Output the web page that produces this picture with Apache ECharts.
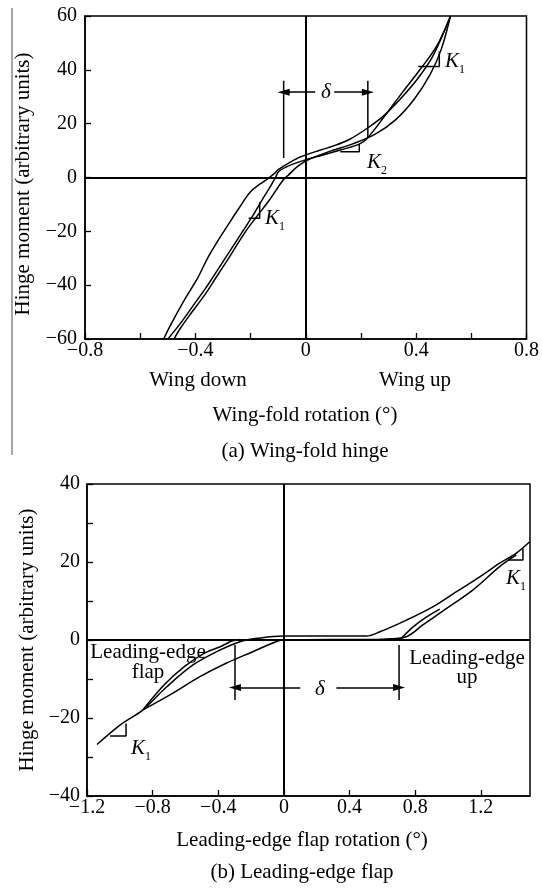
<!DOCTYPE html>
<html>
<head>
<meta charset="utf-8">
<script src="https://cdn.jsdelivr.net/npm/echarts@6/dist/echarts.min.js"></script>
<style>html,body{margin:0;padding:0;background:#fff;}#chart{width:542px;height:896px;}</style>
</head>
<body>
<div id="chart"></div>
<script>
// ---------- (a) Wing-fold hinge: [rotation (deg), hinge moment] ----------
const wingUpperBranch = [[-0.515,-60],[-0.491,-55.0],[-0.437,-45.0],[-0.393,-37.6],[-0.357,-30.2],[-0.321,-23.9],[-0.284,-18.0],[-0.244,-11.7],[-0.201,-5.4],[-0.165,-2.4],[-0.143,-0.9],[-0.111,1.7],[-0.101,2.8],[-0.056,5.7],[-0.020,7.6],[0.053,10.2],[0.100,11.7],[0.161,14.3],[0.223,18.3],[0.281,22.8],[0.342,29.1],[0.404,36.5],[0.462,45.4],[0.524,59.8]];
const wingLowerBranch = [[0.524,59.8],[0.491,47.6],[0.451,38.3],[0.393,29.1],[0.324,21.3],[0.252,16.1],[0.168,12.4],[0.089,9.8],[0.016,6.9],[-0.027,4.3],[-0.063,0.9],[-0.082,-0.9],[-0.129,-8.0],[-0.176,-14.3],[-0.219,-20.2],[-0.274,-29.1],[-0.321,-36.5],[-0.368,-43.9],[-0.411,-49.8],[-0.455,-56.1],[-0.476,-59.8]];
const wingInnerBranch = [[-0.498,-59.8],[-0.455,-54.3],[-0.408,-47.6],[-0.364,-41.3],[-0.321,-34.6],[-0.274,-27.2],[-0.230,-20.2],[-0.190,-13.9],[-0.158,-8.3],[-0.129,-3.5],[-0.111,-0.2],[-0.096,2.4],[-0.056,4.6],[-0.002,6.5],[0.060,8.3],[0.125,10.2],[0.194,12.4],[0.223,14.6],[0.288,23.1],[0.353,32.0],[0.415,40.2],[0.476,49.1],[0.524,59.8]];
const wingK1Upper = [[0.408,41.2],[0.484,41.2],[0.484,46.8]];
const wingK2 = [[0.125,9.6],[0.194,9.6],[0.194,12.4]];
const wingK1Lower = [[-0.207,-15.1],[-0.167,-15.1],[-0.167,-9.2]];
const wingDeltaLeft = [[-0.08,35.9],[-0.08,7.2]];
const wingDeltaRight = [[0.225,35.9],[0.225,15.0]];
const wingDeltaArrows = [[[0.034,31.7],[-0.08,31.7]],[[0.103,31.7],[0.225,31.7]]];
const wingXTicks = {min:-0.8, max:0.8, step:0.4};
const wingYTicks = {min:-60, max:60, step:20};

// ---------- (b) Leading-edge flap ----------
const flapMainBranch = [[-1.139,-26.8],[-0.995,-21.7],[-0.859,-17.9],[-0.714,-12.0],[-0.554,-6.4],[-0.410,-3.0],[-0.268,-0.44],[-0.146,0.51],[-0.006,1.03],[0.280,1.03],[0.504,1.03],[0.585,2.1],[0.747,5.1],[0.907,8.5],[1.052,12.4],[1.194,16.2],[1.315,19.7],[1.417,22.3],[1.498,25.2]];
const flapLowerBranch = [[-0.859,-17.9],[-0.676,-13.6],[-0.512,-9.4],[-0.349,-5.9],[-0.189,-3.0],[-0.067,-0.77],[-0.006,0],[0.280,0.13],[0.504,0.13],[0.625,0.26],[0.747,0.85],[0.847,3.85],[0.950,6.9],[1.151,12.8],[1.315,18.8],[1.417,21.8]];
const flapLeftBranch = [[-0.859,-17.9],[-0.725,-11.3],[-0.603,-6.7],[-0.481,-3.3],[-0.378,-1.54],[-0.317,-0.26],[-0.268,0.13]];
const flapRightBranch = [[0.706,0],[0.786,3.3],[0.859,5.6],[0.950,7.9]];
const flapK1Lower = [[-1.060,-24.6],[-0.962,-24.6],[-0.962,-21.4]];
const flapK1Upper = [[1.366,20.5],[1.457,20.5],[1.457,23.5]];
const flapDeltaLeft = [[-0.298,-1.3],[-0.298,-15.4]];
const flapDeltaRight = [[0.702,-1.3],[0.702,-15.4]];
const flapDeltaArrows = [[[0.10,-12.2],[-0.298,-12.2]],[[0.32,-12.2],[0.702,-12.2]]];
const flapXTicks = {min:-1.2, max:1.5, step:0.4};
const flapYTicks = {min:-40, max:40, step:20};

// ---------- build ----------
const SERIF = 'Liberation Serif, Times New Roman, serif';
const fmt = v => String(+(+v).toFixed(1)).replace('-', '\u2212');

function xAx(grid, t, minor, showMax) {
  return {
    type:'value', gridIndex:grid, min:t.min, max:t.max, interval:t.step,
    axisLine:{show:true, onZero:false, lineStyle:{color:'#000', width:1.5}},
    axisTick:{show:true, inside:true, length:6, lineStyle:{color:'#000', width:1.3}},
    minorTick:{show:minor, splitNumber:2, length:6, lineStyle:{color:'#000', width:1.3}},
    splitLine:{show:false}, minorSplitLine:{show:false},
    axisLabel:{color:'#000', fontSize:20, fontFamily:SERIF, margin:2, formatter:fmt, showMaxLabel:showMax}
  };
}
function yAx(grid, t, minor, margin) {
  return {
    type:'value', gridIndex:grid, min:t.min, max:t.max, interval:t.step,
    axisLine:{show:true, onZero:false, lineStyle:{color:'#000', width:1.5}},
    axisTick:{show:true, inside:true, length:6, lineStyle:{color:'#000', width:1.3}},
    minorTick:{show:minor, splitNumber:2, length:6, lineStyle:{color:'#000', width:1.3}},
    splitLine:{show:false}, minorSplitLine:{show:false},
    axisLabel:{color:'#000', fontSize:20, fontFamily:SERIF, margin:margin, formatter:fmt}
  };
}
function curve(data, gi) {
  return {type:'line', xAxisIndex:gi, yAxisIndex:gi, data:data, showSymbol:false, symbol:'none',
    smooth:0.35, lineStyle:{color:'#000', width:1.5}, silent:true, z:3};
}
function poly(data, gi) {
  return {type:'line', xAxisIndex:gi, yAxisIndex:gi, data:data, showSymbol:false, symbol:'none',
    lineStyle:{color:'#000', width:1.5}, silent:true, z:3};
}
function arrows(pairs, gi) {
  return {type:'line', xAxisIndex:gi, yAxisIndex:gi, data:[], silent:true,
    markLine:{silent:true, symbol:['none','triangle'], symbolSize:[7,12], animation:false,
      lineStyle:{color:'#000', width:1.5, type:'solid'}, label:{show:false},
      data:pairs.map(p => [{coord:p[0]},{coord:p[1]}])}};
}
function zeroLines(gi) {
  return {type:'line', xAxisIndex:gi, yAxisIndex:gi, data:[], silent:true,
    markLine:{silent:true, symbol:'none', animation:false, label:{show:false},
      lineStyle:{color:'#000', width:2, type:'solid'},
      data:[{xAxis:0},{yAxis:0}]}};
}
function txt(text, x, y, size, extra, rot) {
  return {type:'text', x:x, y:y, rotation:rot||0, style:Object.assign({text:text, fontSize:size||21, fontFamily:SERIF,
    fill:'#000', align:'center', verticalAlign:'middle'}, extra||{}), silent:true, z:10};
}
function kLabel(x, y, sub) {
  return [txt('K', x, y, 21, {fontStyle:'italic'}), txt(sub, x+10, y+9, 12)];
}

const chart = echarts.init(document.getElementById('chart'), null, {renderer:'canvas'});
chart.setOption({
  animation:false,
  backgroundColor:'#fff',
  grid:[
    {left:85, top:16, width:442, height:323, show:true, borderColor:'#000', borderWidth:1.5, backgroundColor:'transparent'},
    {left:87, top:484, width:443, height:312, show:true, borderColor:'#000', borderWidth:1.5, backgroundColor:'transparent'}
  ],
  xAxis:[ xAx(0, wingXTicks, true, true), xAx(1, flapXTicks, false, false) ],
  yAxis:[ yAx(0, wingYTicks, false, 8), yAx(1, flapYTicks, true, 7) ],
  series:[
    zeroLines(0),
    curve(wingUpperBranch,0), curve(wingLowerBranch,0), curve(wingInnerBranch,0),
    poly(wingK1Upper,0), poly(wingK2,0), poly(wingK1Lower,0),
    poly(wingDeltaLeft,0), poly(wingDeltaRight,0), arrows(wingDeltaArrows,0),
    zeroLines(1),
    curve(flapMainBranch,1), curve(flapLowerBranch,1), curve(flapLeftBranch,1), curve(flapRightBranch,1),
    poly(flapK1Lower,1), poly(flapK1Upper,1),
    poly(flapDeltaLeft,1), poly(flapDeltaRight,1), arrows(flapDeltaArrows,1)
  ],
  graphic:[
    {type:'line', shape:{x1:12, y1:8, x2:12, y2:455}, style:{stroke:'#888', lineWidth:1.5}, silent:true},
    txt('Hinge moment (arbitrary units)', 23, 184, 21, {}, Math.PI/2),
    txt('Wing down', 198, 380),
    txt('Wing up', 415, 380),
    txt('Wing-fold rotation (\u00B0)', 305, 415),
    txt('(a) Wing-fold hinge', 305, 451),
    txt('\u03B4', 326, 92, 21, {fontStyle:'italic'}),
    ...kLabel(452, 61, '1'), ...kLabel(374, 162, '2'), ...kLabel(272, 218, '1'),
    txt('Hinge moment (arbitrary units)', 27, 640, 21, {}, Math.PI/2),
    txt('Leading-edge flap rotation (\u00B0)', 302, 840),
    txt('(b) Leading-edge flap', 302, 872),
    txt('Leading-edge', 148, 652), txt('flap', 148, 672),
    txt('Leading-edge', 467, 658), txt('up', 467, 677),
    txt('\u03B4', 320, 689, 21, {fontStyle:'italic'}),
    ...kLabel(138, 748, '1'), ...kLabel(513, 578, '1')
  ]
});
</script>
</body>
</html>
